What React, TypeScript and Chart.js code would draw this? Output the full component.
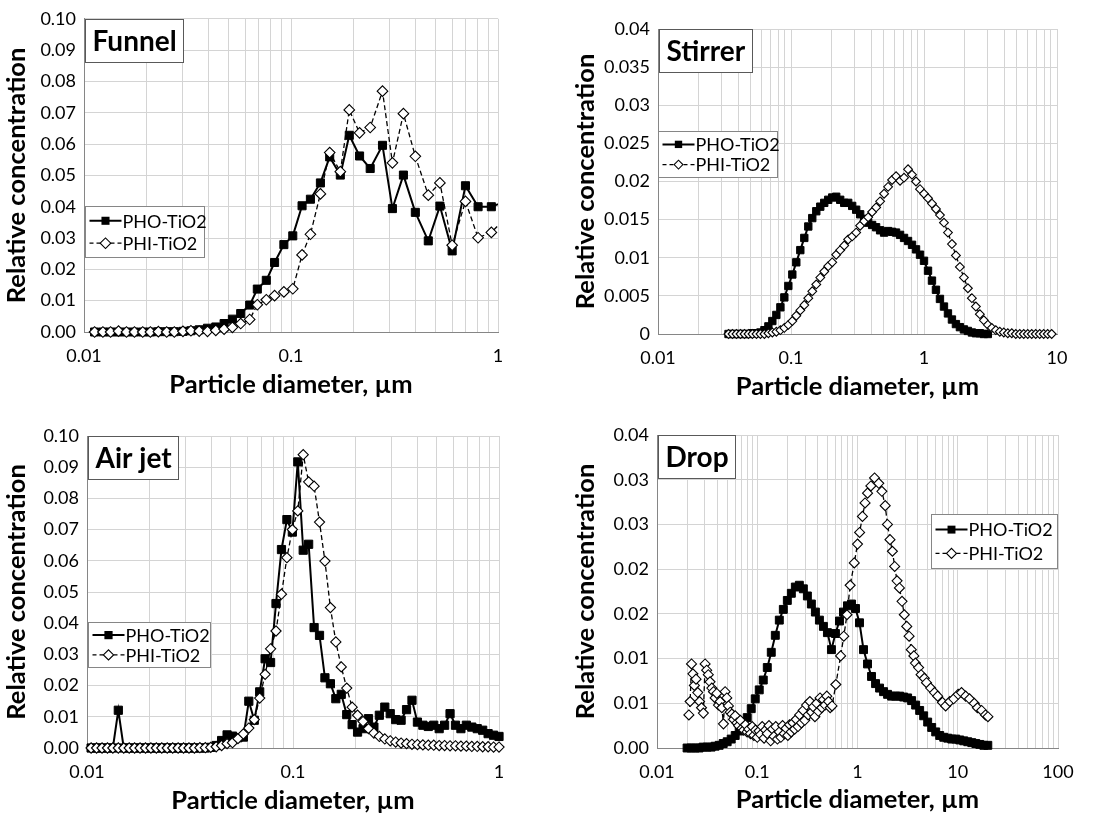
import React, { useEffect, useRef } from 'react';
import { Chart, registerables } from 'chart.js';

Chart.register(...registerables);

// ---------------- DATA ----------------
// Funnel
const funnelX = [0.01125, 0.01234, 0.01344, 0.01468, 0.01604, 0.01753, 0.01922, 0.02093, 0.02287, 0.02508,
  0.02731, 0.03006, 0.03285, 0.03602, 0.0395, 0.04332, 0.04751, 0.05211, 0.05715, 0.06315,
  0.06875, 0.07598, 0.0833, 0.09238, 0.102, 0.1131, 0.1241, 0.1387, 0.1538, 0.1731,
  0.1912, 0.2144, 0.2413, 0.2767, 0.309, 0.3492, 0.3987, 0.4605, 0.524, 0.6006,
  0.6963, 0.8013, 0.9288, 1.07];
const funnelPHO = [0, 0, 0, 0, 0, 0, 0, 0, 0.0001, 0.0001,
  0.0001, 0.0002, 0.0004, 0.0007, 0.0012, 0.0016, 0.0027, 0.0041, 0.0059, 0.0086,
  0.0137, 0.0165, 0.0222, 0.0279, 0.0307, 0.0403, 0.0424, 0.0476, 0.0559, 0.0501,
  0.0628, 0.0562, 0.0522, 0.0596, 0.0394, 0.0501, 0.0382, 0.0291, 0.0402, 0.0259,
  0.0467, 0.04, 0.04, 0.0415];
const funnelPHI = [0, 0, 0, 0.0003, 0, 0, 0, 0, 0.0001, 0,
  0, 0.0002, 0.0004, 0.0003, 0.0002, 0.0005, 0.0009, 0.0015, 0.0027, 0.004,
  0.0087, 0.0103, 0.0116, 0.0128, 0.0138, 0.0246, 0.0312, 0.0441, 0.0573, 0.0512,
  0.0709, 0.0636, 0.0653, 0.0769, 0.054, 0.0697, 0.0561, 0.0437, 0.0476, 0.0277,
  0.0417, 0.0301, 0.0318, 0.036];

// Stirrer
const stirrerX = [0.0339, 0.0363, 0.0389, 0.0417, 0.0447, 0.0479, 0.0513, 0.055, 0.0589, 0.0631,
  0.0676, 0.0724, 0.0776, 0.0832, 0.0891, 0.0955, 0.1023, 0.1096, 0.1175, 0.1259,
  0.1349, 0.1445, 0.1549, 0.166, 0.1778, 0.1905, 0.2042, 0.2188, 0.2344, 0.2512,
  0.2692, 0.2884, 0.309, 0.3311, 0.3548, 0.3802, 0.4074, 0.4365, 0.4677, 0.5012,
  0.537, 0.5754, 0.6166, 0.6607, 0.7079, 0.7586, 0.8128, 0.871, 0.9333, 1.0,
  1.072, 1.148, 1.23, 1.318, 1.413, 1.514, 1.622, 1.738, 1.862, 1.995,
  2.138, 2.291, 2.455, 2.63, 2.818, 3.02, 3.236, 3.467, 3.715, 3.981,
  4.266, 4.571, 4.898, 5.248, 5.623, 6.026, 6.457, 6.918, 7.413, 7.943,
  8.511, 9.12];
const stirrerPHO = [0, 0, 0, 0, 0, 0, 0.0001, 0.0001, 0.0002, 0.0005,
  0.001, 0.0017, 0.0025, 0.0035, 0.0048, 0.0063, 0.0078, 0.0094, 0.011, 0.0126,
  0.0141, 0.0152, 0.0161, 0.0167, 0.0172, 0.0176, 0.0179, 0.018, 0.0176, 0.0172,
  0.0172, 0.0168, 0.0163, 0.0157, 0.0151, 0.0146, 0.0143, 0.014, 0.0136, 0.0133,
  0.0135, 0.0134, 0.0133, 0.013, 0.0126, 0.0122, 0.0117, 0.0111, 0.0104, 0.0096,
  0.0083, 0.007, 0.0058, 0.0046, 0.0036, 0.0027, 0.0019, 0.0013, 0.0009, 0.0006,
  0.0004, 0.0002, 0.0001, 0.0001, 0, 0, null, null, null, null,
  null, null, null, null, null, null, null, null, null, null,
  null, null];
const stirrerPHI = [0, 0, 0, 0, 0, 0, 0, 0, 0, 0,
  0.0001, 0.0002, 0.0003, 0.0005, 0.0008, 0.0012, 0.0017, 0.0024, 0.0031, 0.0038,
  0.0047, 0.0056, 0.0065, 0.0074, 0.0082, 0.0089, 0.0094, 0.0104, 0.011, 0.0116,
  0.0124, 0.0128, 0.0133, 0.0142, 0.0148, 0.0153, 0.016, 0.0166, 0.0174, 0.0184,
  0.0193, 0.0202, 0.0207, 0.0201, 0.0205, 0.0216, 0.0209, 0.02, 0.019, 0.0184,
  0.0178, 0.0171, 0.0164, 0.0156, 0.0146, 0.0133, 0.0118, 0.0103, 0.0088, 0.0074,
  0.006, 0.0047, 0.0036, 0.0026, 0.0018, 0.0012, 0.0008, 0.0005, 0.0003, 0.0002,
  0.0001, 0.0001, 0, 0, 0, 0, 0, 0, 0, 0,
  0, 0];

// Air jet
const airjetX = [0.01047, 0.01113, 0.01183, 0.01257, 0.01335, 0.01419, 0.01508, 0.01602, 0.01702, 0.01809,
  0.01923, 0.02043, 0.02171, 0.02307, 0.02452, 0.02606, 0.02769, 0.02942, 0.03127, 0.03322,
  0.03532, 0.03752, 0.03988, 0.04237, 0.04503, 0.04786, 0.05085, 0.05404, 0.05742, 0.06102,
  0.06486, 0.06891, 0.07323, 0.07783, 0.0827, 0.0879, 0.09341, 0.09927, 0.1055, 0.1121,
  0.1191, 0.1266, 0.1345, 0.1429, 0.1519, 0.1614, 0.1715, 0.1823, 0.1937, 0.2058,
  0.2188, 0.2325, 0.247, 0.2625, 0.279, 0.2965, 0.3151, 0.3348, 0.3558, 0.3781,
  0.4018, 0.427, 0.4537, 0.4822, 0.5124, 0.5445, 0.5786, 0.6149, 0.6534, 0.6943,
  0.7379, 0.7841, 0.8332, 0.8854, 0.941, 1.0];
const airjetPHO = [0, 0, 0, 0, 0, 0.0121, 0, 0, 0, 0,
  0, 0, 0, 0, 0, 0, 0, 0, 0, 0,
  0, 0, 0.0002, 0.0008, 0.0024, 0.0042, 0.0038, 0.0033, 0.0035, 0.015,
  0.0089, 0.018, 0.0286, 0.0274, 0.0463, 0.0636, 0.0732, 0.0692, 0.0917, 0.0634,
  0.0653, 0.0386, 0.0361, 0.0225, 0.0206, 0.0158, 0.0172, 0.0107, 0.0075, 0.0051,
  0.0062, 0.0094, 0.0067, 0.0105, 0.0131, 0.011, 0.0091, 0.0089, 0.0123, 0.0153,
  0.0083, 0.0073, 0.0069, 0.0073, 0.0062, 0.0073, 0.011, 0.0073, 0.0062, 0.0073,
  0.0067, 0.0062, 0.0057, 0.0046, 0.0041, 0.0037];
const airjetPHI = [0, 0, 0, 0, 0, 0, 0, 0, 0, 0,
  0, 0, 0, 0, 0, 0, 0, 0, 0, 0,
  0.0001, 0.0001, 0.0002, 0.0004, 0.0008, 0.0014, 0.0017, 0.003, 0.0045, 0.0064,
  0.0091, 0.016, 0.0236, 0.0318, 0.0375, 0.0493, 0.061, 0.07, 0.076, 0.094,
  0.0853, 0.0839, 0.0724, 0.0599, 0.045, 0.034, 0.026, 0.0192, 0.0131, 0.0105,
  0.0085, 0.0062, 0.0048, 0.0037, 0.0029, 0.0023, 0.0019, 0.0016, 0.0014, 0.0012,
  0.0011, 0.001, 0.0009, 0.0009, 0.0008, 0.0008, 0.0007, 0.0007, 0.0006, 0.0006,
  0.0005, 0.0005, 0.0004, 0.0004, 0.0003, 0.0003];

// Drop
const dropPhoX = [0.01995, 0.02188, 0.02399, 0.0263, 0.02884, 0.03162, 0.03467, 0.03802, 0.04169, 0.04571,
  0.05012, 0.05495, 0.06026, 0.06607, 0.07244, 0.07943, 0.0871, 0.0955, 0.1047, 0.1148,
  0.1259, 0.138, 0.1514, 0.166, 0.182, 0.1995, 0.2188, 0.2399, 0.263, 0.2884,
  0.3162, 0.3467, 0.3802, 0.4169, 0.4571, 0.5012, 0.5495, 0.6026, 0.6607, 0.7244,
  0.7943, 0.871, 0.955, 1.047, 1.148, 1.259, 1.38, 1.514, 1.66, 1.82,
  1.995, 2.188, 2.399, 2.63, 2.884, 3.162, 3.467, 3.802, 4.169, 4.571,
  5.012, 5.495, 6.026, 6.607, 7.244, 7.943, 8.71, 9.55, 10.47, 11.48,
  12.59, 13.8, 15.14, 16.6, 18.2, 19.95];
const dropPHO = [0, 0, 0, 0, 0.0001, 0.0001, 0.0001, 0.0002, 0.0003, 0.0005,
  0.0007, 0.001, 0.0014, 0.0019, 0.0026, 0.0034, 0.0044, 0.0055, 0.0065, 0.0076,
  0.009, 0.0107, 0.0126, 0.0143, 0.0155, 0.0165, 0.0173, 0.018, 0.0182, 0.0178,
  0.017, 0.0161, 0.0152, 0.0143, 0.0136, 0.0129, 0.011, 0.0128, 0.0142, 0.0152,
  0.0159, 0.0161, 0.0156, 0.014, 0.011, 0.0094, 0.008, 0.0072, 0.0067, 0.0063,
  0.006, 0.0058, 0.0058, 0.0058, 0.0057, 0.0056, 0.0053, 0.0048, 0.0042, 0.0036,
  0.0029, 0.0023, 0.0018, 0.0014, 0.0012, 0.0011, 0.001, 0.001, 0.0009, 0.0008,
  0.0007, 0.0006, 0.0005, 0.0004, 0.0003, 0.0003];
const dropPhiX = [0.0208, 0.0214, 0.0221, 0.0228, 0.0236, 0.0245, 0.0255, 0.0266, 0.0278, 0.029,
  0.0302, 0.0313, 0.0325, 0.0338, 0.0352, 0.0366, 0.038, 0.0395, 0.041, 0.0426,
  0.0443, 0.046, 0.0478, 0.0497, 0.0516, 0.0537, 0.0558, 0.058, 0.0603, 0.0627,
  0.0652, 0.0678, 0.0705, 0.0733, 0.0762, 0.0792, 0.0823, 0.0856, 0.089, 0.0925,
  0.0962, 0.1, 0.104, 0.108, 0.112, 0.117, 0.121, 0.126, 0.131, 0.136,
  0.142, 0.147, 0.153, 0.159, 0.166, 0.172, 0.179, 0.186, 0.194, 0.202,
  0.21, 0.218, 0.227, 0.236, 0.245, 0.255, 0.265, 0.276, 0.287, 0.298,
  0.31, 0.322, 0.335, 0.348, 0.362, 0.376, 0.391, 0.407, 0.423, 0.44,
  0.457, 0.475, 0.494, 0.514, 0.534, 0.557, 0.608, 0.679, 0.73, 0.785,
  0.845, 0.929, 1.0, 1.05, 1.12, 1.19, 1.26, 1.36, 1.48, 1.63,
  1.75, 1.89, 1.99, 2.11, 2.23, 2.35, 2.48, 2.62, 2.78, 2.93,
  3.1, 3.27, 3.44, 3.65, 3.78, 4.07, 4.31, 4.64, 4.88, 5.37,
  5.86, 6.31, 7.04, 7.57, 8.33, 9.1, 10.1, 10.9, 12.0, 13.1,
  14.6, 15.7, 17.3, 18.9, 20.0];
const dropPHI = [0.0037, 0.0052, 0.0094, 0.0083, 0.007, 0.0077, 0.0062, 0.0052, 0.0045, 0.0039,
  0.0094, 0.0087, 0.0082, 0.0074, 0.0067, 0.0063, 0.0056, 0.0061, 0.0048, 0.0052,
  0.0045, 0.0027, 0.0063, 0.0056, 0.0047, 0.004, 0.0038, 0.0032, 0.0036, 0.0028,
  0.0025, 0.0031, 0.0022, 0.002, 0.0026, 0.0018, 0.0021, 0.0016, 0.0024, 0.0014,
  0.002, 0.0012, 0.0019, 0.0015, 0.0024, 0.0011, 0.002, 0.0016, 0.0025, 0.0008,
  0.0021, 0.0013, 0.0024, 0.001, 0.0018, 0.0012, 0.0025, 0.0016, 0.0022, 0.0014,
  0.0026, 0.0018, 0.0028, 0.0021, 0.0032, 0.0024, 0.0037, 0.0028, 0.0042, 0.0031,
  0.0048, 0.0037, 0.0052, 0.004, 0.0046, 0.0035, 0.005, 0.0041, 0.0056, 0.0045,
  0.0054, 0.0048, 0.0058, 0.0052, 0.0045, 0.0047, 0.0071, 0.0103, 0.0125, 0.0149,
  0.0182, 0.0207, 0.0228, 0.0241, 0.0259, 0.0274, 0.0285, 0.0293, 0.0302, 0.0296,
  0.0287, 0.0271, 0.025, 0.0233, 0.022, 0.0203, 0.0187, 0.0179, 0.0164, 0.0149,
  0.0136, 0.0125, 0.011, 0.0103, 0.0095, 0.009, 0.0082, 0.0078, 0.0073, 0.0067,
  0.0062, 0.0058, 0.0051, 0.0047, 0.0052, 0.0055, 0.006, 0.0062, 0.0058, 0.0055,
  0.005, 0.0045, 0.0042, 0.0037, 0.0035];

// Axis tick decades and y-axis ranges [min, max, step]
const funnelXTicks = [0.01, 0.1, 1];
const stirrerXTicks = [0.01, 0.1, 1, 10];
const airjetXTicks = [0.01, 0.1, 1];
const dropXTicks = [0.01, 0.1, 1, 10, 100];
const funnelY = [0, 0.1, 0.01];
const stirrerY = [0, 0.04, 0.005];
const airjetY = [0, 0.1, 0.01];
const dropY = [0, 0.035, 0.005];

const seriesNames = ['PHO-TiO2', 'PHI-TiO2'];
const xTitle = 'Particle diameter, µm';
const yTitle = 'Relative concentration';

// ---------------- HELPERS ----------------
const FONT = 'Lato, "Open Sans", "DejaVu Sans", sans-serif';
const TICK_SIZE = 18;
const TITLE_SIZE = 25.5;

function toPts(xs: number[], ys: (number | null)[]) {
  const out: { x: number; y: number }[] = [];
  for (let i = 0; i < xs.length; i++) {
    const y = ys[i];
    if (y !== null && y !== undefined) out.push({ x: xs[i], y });
  }
  return out;
}

function gridTicks(decades: number[]) {
  const t: number[] = [];
  for (let i = 0; i < decades.length - 1; i++) {
    for (let k = 1; k <= 9; k++) t.push(parseFloat((decades[i] * k).toPrecision(6)));
  }
  t.push(decades[decades.length - 1]);
  return t;
}

function isDecade(v: number) {
  const l = Math.log10(v);
  return Math.abs(l - Math.round(l)) < 1e-6;
}

const fmt2 = (v: number) => v.toFixed(2);
const fmtGeneral = (v: number) => String(parseFloat(v.toFixed(3)));
const fmtRound2 = (v: number) => (Math.round(v * 100 + 1e-9) / 100).toFixed(2);

type Panel = {
  key: string;
  title: string;
  left: number; top: number; width: number; height: number;
  area: { left: number; right: number; top: number; bottom: number };
  xTicks: number[];
  yRange: number[];
  yFmt: (v: number) => string;
  pho: { x: number; y: number }[];
  phi: { x: number; y: number }[];
  sqR: number; diaR: number;
  legend: { x: number; y: number; w: number; h: number };
  yTitleCenter: number; xTitleCenter: number;
  yTickPad: number;
  clipRight: number;
};

const panels: Panel[] = [
  {
    key: 'funnel', title: 'Funnel',
    left: 0, top: 0, width: 545, height: 410,
    area: { left: 84, right: 498, top: 18, bottom: 332 },
    xTicks: funnelXTicks, yRange: funnelY, yFmt: fmt2,
    pho: toPts(funnelX, funnelPHO), phi: toPts(funnelX, funnelPHI),
    sqR: 5.7, diaR: 5.3,
    legend: { x: 85, y: 206, w: 119, h: 51 },
    yTitleCenter: 17, xTitleCenter: 385, yTickPad: 8, clipRight: 0,
  },
  {
    key: 'stirrer', title: 'Stirrer',
    left: 545, top: 0, width: 549, height: 410,
    area: { left: 658, right: 1057, top: 29, bottom: 334 },
    xTicks: stirrerXTicks, yRange: stirrerY, yFmt: fmtGeneral,
    pho: toPts(stirrerX, stirrerPHO), phi: toPts(stirrerX, stirrerPHI),
    sqR: 5.2, diaR: 4.4,
    legend: { x: 658, y: 131, w: 119, h: 46 },
    yTitleCenter: 586, xTitleCenter: 387, yTickPad: 8, clipRight: 6,
  },
  {
    key: 'airjet', title: 'Air jet',
    left: 0, top: 410, width: 545, height: 407,
    area: { left: 87, right: 499, top: 436, bottom: 748 },
    xTicks: airjetXTicks, yRange: airjetY, yFmt: fmt2,
    pho: toPts(airjetX, airjetPHO), phi: toPts(airjetX, airjetPHI),
    sqR: 5.8, diaR: 5.1,
    legend: { x: 88, y: 622, w: 122, h: 45 },
    yTitleCenter: 17, xTitleCenter: 801, yTickPad: 8, clipRight: 6,
  },
  {
    key: 'drop', title: 'Drop',
    left: 545, top: 410, width: 549, height: 407,
    area: { left: 657, right: 1058, top: 435, bottom: 748 },
    xTicks: dropXTicks, yRange: dropY, yFmt: fmtRound2,
    pho: toPts(dropPhoX, dropPHO), phi: toPts(dropPhiX, dropPHI),
    sqR: 5.6, diaR: 5,
    legend: { x: 931, y: 514, w: 126, h: 54 },
    yTitleCenter: 586, xTitleCenter: 800, yTickPad: 8, clipRight: 6,
  },
];

function diamondPath(ctx: CanvasRenderingContext2D, x: number, y: number, r: number) {
  ctx.beginPath();
  ctx.moveTo(x - r, y);
  ctx.lineTo(x, y - r);
  ctx.lineTo(x + r, y);
  ctx.lineTo(x, y + r);
  ctx.closePath();
}

function makeDecor(p: Panel) {
  return {
    id: 'decor_' + p.key,
    afterDatasetsDraw(chart: any) {
      const ctx: CanvasRenderingContext2D = chart.ctx;
      const ca = chart.chartArea;
      ctx.save();
      // panel label box
      ctx.font = `bold 28px ${FONT}`;
      const tw = ctx.measureText(p.title).width;
      const bx = Math.round(ca.left) + 1.5;
      const by = Math.round(ca.top) + 0.5;
      const bw = Math.round(tw + 14);
      const bh = 43;
      ctx.fillStyle = '#ffffff';
      ctx.fillRect(bx, by, bw, bh);
      ctx.strokeStyle = '#595959';
      ctx.lineWidth = 1;
      ctx.strokeRect(bx, by, bw, bh);
      ctx.fillStyle = '#000000';
      ctx.textBaseline = 'middle';
      ctx.textAlign = 'left';
      ctx.fillText(p.title, bx + 7, by + bh / 2 + 1);

      // legend box
      const L = p.legend;
      const lx = L.x - p.left + 0.5;
      const ly = L.y - p.top + 0.5;
      ctx.fillStyle = '#ffffff';
      ctx.fillRect(lx, ly, L.w, L.h);
      ctx.strokeStyle = '#868686';
      ctx.lineWidth = 1;
      ctx.strokeRect(lx, ly, L.w, L.h);
      const r1 = ly + L.h * 0.28;
      const r2 = ly + L.h * 0.72;
      const sx0 = lx + 4;
      const sx1 = lx + 36;
      const mx = (sx0 + sx1) / 2;
      ctx.font = `18px ${FONT}`;
      // PHO row
      ctx.strokeStyle = '#000';
      ctx.lineWidth = 2;
      ctx.setLineDash([]);
      ctx.beginPath();
      ctx.moveTo(sx0, r1);
      ctx.lineTo(sx1, r1);
      ctx.stroke();
      const s = p.sqR * Math.SQRT1_2;
      ctx.fillStyle = '#000';
      ctx.fillRect(mx - s, r1 - s, 2 * s, 2 * s);
      ctx.fillText(seriesNames[0], sx1 + 1, r1 + 1);
      // PHI row
      ctx.lineWidth = 1.3;
      ctx.setLineDash([4, 3]);
      ctx.beginPath();
      ctx.moveTo(sx0, r2);
      ctx.lineTo(sx1, r2);
      ctx.stroke();
      ctx.setLineDash([]);
      diamondPath(ctx, mx, r2, p.diaR);
      ctx.fillStyle = '#fff';
      ctx.fill();
      ctx.lineWidth = 1.1;
      ctx.stroke();
      ctx.fillStyle = '#000';
      ctx.fillText(seriesNames[1], sx1 + 1, r2 + 1);
      ctx.restore();
    },
  };
}

function buildConfig(p: Panel): any {
  const yW = p.area.left - p.left;
  const xH = p.top + p.height - p.area.bottom;
  const padTop = p.area.top - p.top;
  const padRight = p.left + p.width - p.area.right;
  const titleHalf = TITLE_SIZE * 1.2 / 2;
  const clip = { left: 8, top: 8, bottom: 8, right: p.clipRight };
  const gridColor = '#d4d4d4';
  const axisColor = '#868686';
  return {
    type: 'line',
    data: {
      datasets: [
        {
          label: seriesNames[1], data: p.phi, order: 0, clip,
          borderColor: '#000', borderWidth: 1.3, borderDash: [5, 3],
          backgroundColor: '#fff', fill: false, tension: 0,
          pointStyle: 'rectRot', pointRadius: p.diaR,
          pointBackgroundColor: '#fff', pointBorderColor: '#000', pointBorderWidth: 1.1,
        },
        {
          label: seriesNames[0], data: p.pho, order: 1, clip,
          borderColor: '#000', borderWidth: 2,
          backgroundColor: '#000', fill: false, tension: 0,
          pointStyle: 'rect', pointRadius: p.sqR,
          pointBackgroundColor: '#000', pointBorderColor: '#000', pointBorderWidth: 1,
        },
      ],
    },
    options: {
      responsive: false,
      animation: false,
      devicePixelRatio: 1,
      events: [],
      layout: { padding: { top: padTop, right: padRight, left: 0, bottom: 0 } },
      plugins: { legend: { display: false }, tooltip: { enabled: false } },
      scales: {
        x: {
          type: 'logarithmic',
          min: p.xTicks[0],
          max: p.xTicks[p.xTicks.length - 1],
          afterBuildTicks: (s: any) => {
            s.ticks = gridTicks(p.xTicks).map((v) => ({ value: v }));
          },
          afterFit: (s: any) => { s.height = xH; },
          ticks: {
            autoSkip: false, maxRotation: 0, minRotation: 0, padding: 13,
            color: '#000', font: { family: FONT, size: TICK_SIZE },
            callback: (v: any) => (isDecade(Number(v)) ? String(parseFloat(Number(v).toPrecision(3))) : ''),
          },
          grid: { color: gridColor, lineWidth: 1, drawTicks: false },
          border: { color: axisColor, width: 1 },
          title: {
            display: true, text: xTitle, color: '#000',
            font: { family: FONT, size: TITLE_SIZE, weight: 'bold' },
            padding: { top: 0, bottom: p.top + p.height - p.xTitleCenter - titleHalf },
          },
        },
        y: {
          type: 'linear',
          min: p.yRange[0], max: p.yRange[1],
          afterFit: (s: any) => { s.width = yW; },
          ticks: {
            stepSize: p.yRange[2], padding: p.yTickPad,
            color: '#000', font: { family: FONT, size: TICK_SIZE },
            callback: (v: any) => p.yFmt(Number(v)),
          },
          grid: { color: gridColor, lineWidth: 1, drawTicks: false },
          border: { color: axisColor, width: 1 },
          title: {
            display: true, text: yTitle, color: '#000',
            font: { family: FONT, size: TITLE_SIZE, weight: 'bold' },
            padding: { top: p.yTitleCenter - p.left - titleHalf, bottom: 0 },
          },
        },
      },
    },
    plugins: [makeDecor(p)],
  };
}

function PanelChart({ p }: { p: Panel }) {
  const ref = useRef<HTMLCanvasElement>(null);
  useEffect(() => {
    const canvas = ref.current;
    if (!canvas) return;
    const chart = new Chart(canvas, buildConfig(p));
    return () => chart.destroy();
  }, [p]);
  return (
    <canvas
      ref={ref}
      width={p.width}
      height={p.height}
      style={{ position: 'absolute', left: p.left, top: p.top, width: p.width, height: p.height }}
    />
  );
}

export default function App() {
  return (
    <div style={{ position: 'absolute', left: 0, top: 0, width: 1094, height: 817, background: '#fff' }}>
      {panels.map((p) => (
        <PanelChart key={p.key} p={p} />
      ))}
    </div>
  );
}
